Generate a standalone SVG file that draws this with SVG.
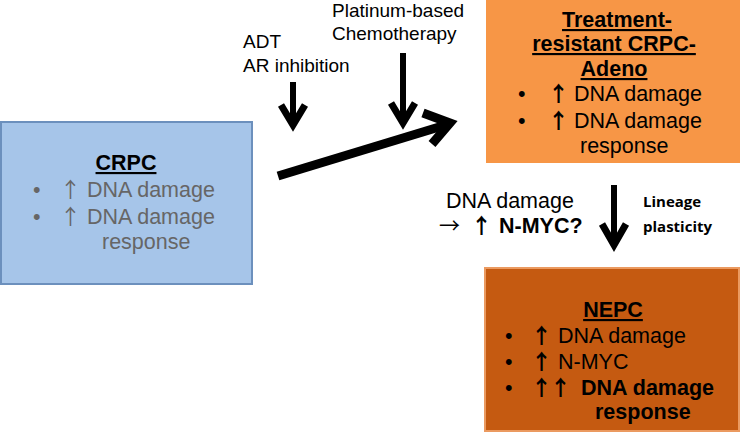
<svg xmlns="http://www.w3.org/2000/svg" width="740" height="432" viewBox="0 0 740 432">
<style>
text{font-family:"Liberation Sans",Arial,sans-serif}
.t{font-size:21.5px}
.b{font-weight:bold}
.u{text-decoration:underline}
.g{fill:#666}
.k{fill:#000}
.ar{font-family:"Noto Sans CJK SC","DejaVu Sans",sans-serif;font-size:21px}
.lab{font-size:19px;fill:#000}
.cal{font-family:"Open Sans","Noto Sans",sans-serif;font-size:15px;font-weight:bold}
.sh{stroke:#000;fill:none;stroke-linecap:butt}
.hd{stroke:#000;fill:none;stroke-linejoin:miter;stroke-linecap:butt}
</style>
<rect width="740" height="432" fill="#fff"/>
<g id="crpc">
<rect x="1" y="122" width="251" height="162" fill="#a6c5e9" stroke="#6c90bd" stroke-width="2"/>
<text class="t b u k" x="126" y="170" text-anchor="middle">CRPC</text>
<text class="t g" x="33" y="197">•</text>
<text class="ar g" x="60" y="197">↑</text>
<text class="t g" x="87" y="197">DNA damage</text>
<text class="t g" x="33" y="224">•</text>
<text class="ar g" x="60" y="224">↑</text>
<text class="t g" x="87" y="224">DNA damage</text>
<text class="t g" x="102" y="249">response</text>
</g>
<g id="adeno">
<rect x="486" y="0" width="254" height="163" fill="#f79646"/>
<text class="t b u k" x="617" y="27" text-anchor="middle">Treatment-</text>
<text class="t b u k" x="614" y="51" text-anchor="middle">resistant CRPC-</text>
<text class="t b u k" x="614" y="76" text-anchor="middle">Adeno</text>
<text class="t k" x="518" y="101">•</text>
<text class="ar b k" x="548" y="101">↑</text>
<text class="t k" x="574" y="101">DNA damage</text>
<text class="t k" x="518" y="128">•</text>
<text class="ar b k" x="548" y="128">↑</text>
<text class="t k" x="574" y="128">DNA damage</text>
<text class="t k" x="580" y="153">response</text>
</g>
<g id="nepc">
<rect x="485" y="268" width="254" height="163" fill="#c55a11" stroke="#eb9a60" stroke-width="2"/>
<text class="t b u k" x="613" y="317" text-anchor="middle">NEPC</text>
<text class="t k" x="505" y="343">•</text>
<text class="ar b k" x="531" y="343">↑</text>
<text class="t k" x="558" y="343">DNA damage</text>
<text class="t k" x="505" y="369">•</text>
<text class="ar b k" x="531" y="369">↑</text>
<text class="t k" x="558" y="369">N-MYC</text>
<text class="t k" x="505" y="395">•</text>
<text class="ar b k" x="531" y="395">↑</text>
<text class="ar b k" x="550" y="395">↑</text>
<text class="t b k" x="581" y="395">DNA damage</text>
<text class="t b k" x="595" y="419">response</text>
</g>
<g id="labels">
<text class="lab" x="243" y="48">ADT</text>
<text class="lab" x="243" y="72">AR inhibition</text>
<text class="lab" x="332" y="17">Platinum-based</text>
<text class="lab" x="332" y="40">Chemotherapy</text>
<text class="t k" x="446" y="208">DNA damage</text>
<text class="ar k" x="439" y="233">→</text>
<text class="ar b k" x="471" y="233">↑</text>
<text class="t b k" x="499" y="233">N-MYC?</text>
<text class="cal" x="643" y="207">Lineage</text>
<text class="cal" x="643" y="232">plasticity</text>
</g>
<g id="connectors">
<line class="sh" x1="293" y1="82" x2="293" y2="124" stroke-width="6"/>
<polyline class="hd" points="281,105 293,125 305,105" stroke-width="7"/>
<line class="sh" x1="403" y1="53" x2="403" y2="121" stroke-width="6"/>
<polyline class="hd" points="391,103 403,123 415,103" stroke-width="7"/>
<line class="sh" x1="614" y1="185" x2="614" y2="243" stroke-width="6"/>
<polyline class="hd" points="602,224 614,245 626,224" stroke-width="7"/>
<line class="sh" x1="278" y1="176" x2="449" y2="124" stroke-width="9"/>
<polyline class="hd" points="423,113 450,123 432,144" stroke-width="9"/>
</g>
</svg>
